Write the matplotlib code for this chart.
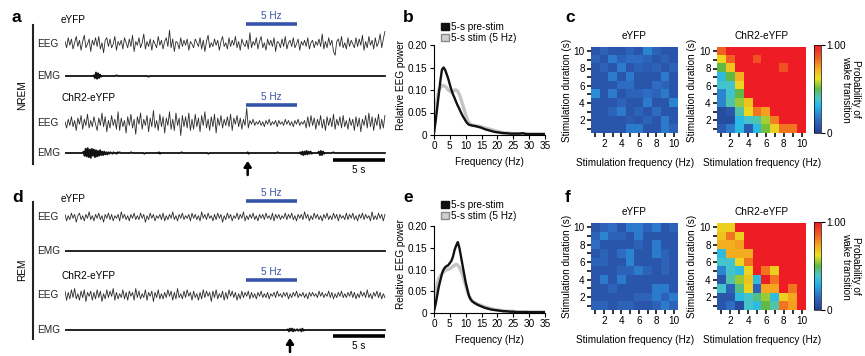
import numpy as np
import matplotlib
matplotlib.use("Agg")
import matplotlib.pyplot as plt
from matplotlib.colors import LinearSegmentedColormap
from matplotlib.patches import Patch
from matplotlib.lines import Line2D

plt.rcParams['font.family'] = ['Liberation Sans', 'DejaVu Sans']
plt.rcParams['font.size'] = 7.2

# ---------------- data ----------------
# EEG traces (arbitrary units), 31 s windows
eeg_nrem_eyfp = [2,-3,5,-1,4,-4,1,6,-2,3,-5,2,7,-3,0,4,-6,3,-1,5,
                 -2,6,-4,1,-7,3,5,-2,4,-3,0,6,-5,2,-1,3,-4,5,1,-3,
                 4,-2,7,-6,2,-1,5,-3,1,8,-4,2,-2,4,-5,3,0,-3,6,-1,
                 3,-4,2,5,-2,11,-3,4,-6,2,1,-4,5,-2,3,-1,4,-5,2,0,
                 -3,4,1,-2,5,-4,3,-6,2,7,-3,1,-2,4,-1,3,-5,2,6,-2,
                 1,-4,5,-2,3,-1,6,-3,2,-5,4,0,-2,3,-4,9,-3,2,-1,5,
                 -4,2,6,-3,1,-5,4,-1,3,-2,5,-6,2,1,-3,4,-2,6,-4,1,
                 3,-2,5,-3,0,4,-5,2,-1,3,-2,5,-4,1,3,-3,2,-1,4,-2,
                 8,-4,2,-3,5,-1,3,-6,-9,2,4,-2,6,-3,1,-4,5,-2,3,0,
                 -3,5,-2,4,-1,7,-5,2,-3,6,-1,3,-4,5,-2,1,8,-3,4,10]
eeg_nrem_chr2 = [1,-4,3,-2,5,-3,2,-6,4,-1,6,-5,3,-2,7,-4,2,-3,5,-1,
                 -6,4,-2,8,-3,5,-7,2,-4,6,-2,3,-5,9,-6,4,-3,2,-8,5,
                 -2,7,-4,3,-9,5,-1,8,-5,3,-2,6,-7,4,-3,10,-4,2,-6,7,
                 -3,5,-8,4,-2,9,-5,3,-6,8,-2,4,-10,6,-3,5,-4,8,-6,3,
                 -5,7,-3,4,-7,6,-2,9,-4,3,-6,5,-3,7,-8,4,-2,6,-4,3,
                 -2,5,-3,7,-6,4,-1,6,-3,4,-5,3,-2,12,-4,2,-1,3,-2,1,
                 -1,2,-2,1,-3,2,-1,3,-2,1,-1,2,-3,2,-1,1,-2,3,-1,2,
                 -2,1,-3,2,-1,3,-2,1,-1,2,-4,5,-3,6,-2,4,-5,3,-2,6,
                 -4,3,-6,5,-2,4,-3,7,-5,3,-2,5,-4,6,-3,2,-5,4,-2,3,
                 -6,5,-3,4,-7,3,-2,6,-4,8,-3,5,-6,4,-2,7,-5,3,-4,6]
eeg_rem_eyfp = [2,-3,1,-2,3,-1,2,-4,1,3,-2,1,-3,2,-1,4,-2,1,-3,2,
                -1,3,-2,1,-4,2,-1,3,-2,2,-3,1,-1,2,-3,4,-1,2,-2,1,
                -3,2,-1,3,-2,1,-2,3,-1,2,-4,1,-2,3,-1,2,-3,1,-1,2,
                -2,3,-3,1,-2,2,-1,4,-2,1,-3,2,-1,3,-2,1,-1,2,-3,3,
                -1,2,-2,1,-3,4,-1,2,-2,3,-1,1,-3,2,-2,3,-1,2,-4,1,
                -2,3,-1,2,-3,1,-1,3,-2,2,-1,4,-3,1,-2,2,-1,3,-2,1,
                -3,2,-1,2,-2,3,-1,1,-2,3,-3,2,-1,2,-2,1,-1,3,-2,2,
                -1,3,-2,1,-3,2,-1,2,-2,4,-1,2,-3,1,-2,3,-1,2,-2,1,
                -3,2,-1,3,-2,1,-2,3,-1,2,-3,2,-1,1,-2,3,-2,2,-1,3,
                -2,1,-3,2,-1,3,-2,2,-1,1,-3,4,-2,1,-2,3,-1,2,-3,2]
eeg_rem_chr2 = [3,-4,2,-3,4,-2,5,-3,1,-4,3,-2,4,-5,2,-1,3,-4,2,-3,
                4,-2,3,-5,1,-3,4,-2,3,-1,5,-4,2,-3,1,-2,4,-3,2,-4,
                3,-1,2,-4,5,-2,3,-3,1,-2,4,-4,2,-1,3,-5,2,-2,4,-3,
                1,-3,2,-2,4,-1,3,-4,2,-3,5,-2,1,-3,3,-2,4,-1,2,-4,
                3,-2,1,-4,2,-3,4,-2,3,-1,2,-5,3,-2,4,-3,1,-2,3,-4,
                2,-3,4,-1,3,-2,2,-4,1,-3,3,-2,2,-1,3,-3,2,-2,1,-3,
                2,-1,3,-2,1,-2,2,-3,1,-1,2,-2,3,-1,1,-2,2,-1,2,-3,
                1,-2,2,-1,3,-2,1,-1,2,-2,1,-3,2,-1,2,-1,1,-2,3,-1,
                2,-2,1,-1,3,-2,2,-3,1,-2,2,-1,3,-2,1,-2,2,-1,3,-2,
                2,-3,1,-2,3,-1,2,-2,4,-2,1,-3,2,-1,3,-2,2,-3,1,-2]
# EMG traces sampled every 0.1 s
emg_nrem_eyfp = ([0]*28 + [1,-3,5,-4,4,-3,2,-1] + [0]*14 + [1] + [0]*30 + [-1] + [0]*229)
emg_nrem_chr2 = ([0]*18 + [2,-4,6,-5,7,-6,5,-7,6,-4,5,-6,4,-5,3,-4,4,-3,2,-3]
                 + [2,-2,1,-2,1,-1,1,0,-1,1,0,0,-1,1,0,1] + [0]*10 + [1] + [0]*12 + [-1]
                 + [0]*13 + [1,-1] + [0]*20 + [1] + [0]*25 + [-1] + [0]*37 + [1,-1]
                 + [0]*27 + [1] + [0]*21 + [1,-2,2,-3,2,-2,3,-2,2,-1,2,-1] + [0]*6
                 + [2,-3,3,-3,2,-1] + [0]*8 + [1] + [0]*50)
emg_rem_eyfp = [0]*311
emg_rem_chr2 = ([0]*216 + [1,-2,2,-1,2,-2,1,-1,0,1,-1,0,1,-2,2,-1] + [0]*79)
stim_on, stim_off = 17.5, 22.5
arrow_nrem, arrow_rem = 17.7, 21.8

# EEG power spectra
freq = [0,0.5,1,1.5,2,2.5,3,3.5,4,4.5,5,5.5,6,6.5,7,7.5,8,8.5,9,9.5,10,10.5,11,11.5,12,
        13,14,15,16,17,18,19,20,21,22,23,24,25,26,27,28,29,30,31,32,33,34,35]
nrem_pre = [0.005,0.03,0.06,0.09,0.12,0.145,0.15,0.145,0.135,0.125,0.112,0.1,0.09,0.082,0.073,
            0.065,0.058,0.05,0.043,0.037,0.031,0.026,0.023,0.022,0.021,
            0.02,0.018,0.016,0.013,0.011,0.009,0.007,0.006,0.005,0.004,0.004,0.003,0.003,
            0.003,0.003,0.004,0.002,0.002,0.002,0.002,0.002,0.002,0.002]
nrem_stim = [0.01,0.05,0.08,0.1,0.105,0.11,0.11,0.108,0.105,0.1,0.098,0.095,0.097,0.1,0.1,
             0.097,0.09,0.08,0.068,0.057,0.045,0.035,0.027,0.024,0.022,
             0.02,0.02,0.018,0.016,0.014,0.012,0.01,0.008,0.006,0.005,0.004,0.004,0.003,
             0.003,0.003,0.003,0.003,0.002,0.002,0.002,0.002,0.002,0.002]
rem_pre = [0.005,0.02,0.04,0.06,0.075,0.09,0.1,0.105,0.108,0.11,0.115,0.12,0.13,0.145,0.155,
           0.163,0.15,0.13,0.11,0.09,0.07,0.055,0.04,0.032,0.027,
           0.022,0.018,0.015,0.012,0.01,0.008,0.007,0.006,0.005,0.004,0.004,0.003,0.003,
           0.002,0.002,0.002,0.002,0.002,0.002,0.002,0.002,0.002,0.002]
rem_stim = [0.01,0.04,0.065,0.08,0.085,0.09,0.095,0.097,0.1,0.1,0.102,0.105,0.107,0.11,0.112,
            0.11,0.105,0.097,0.088,0.075,0.063,0.05,0.04,0.033,0.028,
            0.023,0.02,0.017,0.014,0.012,0.01,0.008,0.007,0.006,0.005,0.004,0.004,0.004,
            0.003,0.003,0.003,0.003,0.002,0.002,0.002,0.002,0.002,0.002]
freq_ticks = [0,5,10,15,20,25,30,35]
power_ticks = [0,0.05,0.10,0.15,0.20]
power_ticklabels = ['0','0.05','0.10','0.15','0.20']

# Probability of wake transition; rows = duration 10 s (top) .. 1 s (bottom), cols = 1..10 Hz
nrem_eyfp_prob = [
    [0.08,0.12,0.08,0.08,0.12,0.08,0.20,0.12,0.08,0.08],
    [0.12,0.08,0.18,0.12,0.15,0.15,0.12,0.08,0.12,0.08],
    [0.08,0.12,0.08,0.18,0.08,0.12,0.10,0.12,0.08,0.12],
    [0.08,0.08,0.18,0.08,0.18,0.08,0.08,0.08,0.18,0.08],
    [0.08,0.08,0.08,0.15,0.15,0.08,0.08,0.15,0.12,0.08],
    [0.22,0.08,0.18,0.08,0.12,0.12,0.15,0.12,0.18,0.08],
    [0.08,0.08,0.08,0.12,0.08,0.08,0.18,0.08,0.08,0.20],
    [0.08,0.08,0.12,0.18,0.08,0.12,0.08,0.15,0.08,0.08],
    [0.08,0.08,0.08,0.08,0.10,0.08,0.12,0.08,0.18,0.08],
    [0.08,0.08,0.08,0.08,0.18,0.18,0.08,0.08,0.18,0.12]]
nrem_chr2_prob = [
    [0.85,1,1,1,1,1,1,1,1,1],
    [0.65,0.85,1,1,0.88,1,1,1,1,1],
    [0.50,0.68,1,1,1,1,1,0.88,1,1],
    [0.33,0.50,0.72,1,1,1,1,1,1,1],
    [0.38,0.38,0.65,1,1,1,1,1,1,1],
    [0.20,0.38,0.50,1,1,1,1,1,1,1],
    [0.20,0.42,0.55,0.68,1,1,1,1,1,1],
    [0.05,0.08,0.42,0.65,0.82,0.75,1,1,1,1],
    [0.05,0.05,0.32,0.38,0.42,0.56,0.80,1,1,1],
    [0.10,0.18,0.32,0.10,0.32,0.52,0.66,0.82,0.82,1]]
rem_eyfp_prob = [
    [0.08,0.12,0.15,0.08,0.18,0.18,0.12,0.18,0.08,0.12],
    [0.12,0.20,0.12,0.12,0.08,0.18,0.08,0.08,0.08,0.08],
    [0.15,0.08,0.08,0.08,0.08,0.12,0.08,0.18,0.08,0.08],
    [0.08,0.12,0.08,0.15,0.20,0.08,0.08,0.18,0.12,0.08],
    [0.12,0.12,0.08,0.08,0.20,0.08,0.08,0.08,0.12,0.08],
    [0.08,0.08,0.08,0.12,0.12,0.18,0.12,0.08,0.12,0.08],
    [0.08,0.18,0.08,0.18,0.08,0.08,0.08,0.08,0.08,0.08],
    [0.08,0.08,0.12,0.08,0.08,0.08,0.08,0.18,0.18,0.08],
    [0.08,0.08,0.08,0.08,0.08,0.12,0.12,0.18,0.12,0.18],
    [0.12,0.12,0.08,0.12,0.12,0.08,0.08,0.12,0.18,0.12]]
rem_chr2_prob = [
    [0.66,0.66,1,1,1,1,1,1,1,1],
    [0.68,0.82,0.66,1,1,1,1,1,1,1],
    [0.72,0.72,0.75,1,1,1,1,1,1,1],
    [0.33,0.73,0.73,0.73,1,1,1,1,1,1],
    [0.38,0.38,0.65,0.82,1,1,1,1,1,1],
    [0.20,0.38,0.33,0.65,1,0.82,0.66,1,1,1],
    [0.08,0.42,0.55,0.68,0.33,1,0.82,1,1,1],
    [0.38,0.12,0.45,0.66,0.12,0.74,0.74,1,0.82,1],
    [0.08,0.08,0.33,0.38,0.45,0.55,0.33,0.66,0.74,1],
    [0.08,0.15,0.05,0.38,0.33,0.50,0.42,0.82,0.75,1]]
grid_ticks = [1,2,3,4,5,6,7,8,9,10]

# ---------------- layout helpers ----------------
W, H = 865, 356
fig = plt.figure(figsize=(W/100, H/100), dpi=100)

def box(x0, y0, x1, y1):
    return fig.add_axes([x0/W, 1 - y1/H, (x1 - x0)/W, (y1 - y0)/H])

def ftxt(x, y, s, **kw):
    kw.setdefault('ha', 'left'); kw.setdefault('va', 'center')
    fig.text(x/W, 1 - y/H, s, **kw)

def vline(x, y0, y1, lw=1.5):
    fig.add_artist(Line2D([x/W, x/W], [1 - y0/H, 1 - y1/H], color='#222222', lw=lw))

BLUE = '#3553A8'
trace_col = '#2a2a2a'

# ---------------- panels a, d: traces ----------------
def trace_panel(y0, y1, rows, stim_ys, arrow_t, arrow_y, scale_y, eeg_scale):
    ax = box(65, y0, 387, y1)
    ax.set_xlim(0, 31.2)
    ax.set_ylim(y1, y0)
    ax.axis('off')
    for kind, yc, vals in rows:
        if kind == 'EEG':
            t = np.linspace(0, 31, len(vals))
            ax.plot(t, yc - eeg_scale*np.array(vals), color=trace_col, lw=0.6)
        else:
            t = np.arange(len(vals))*0.1
            ax.plot(t, yc - 0.7*np.array(vals), color='#111111', lw=1.3)
        ftxt(37, yc, kind, color='#222222')
    for sy in stim_ys:
        ax.plot([stim_on, stim_off], [sy, sy], color=BLUE, lw=2.6, solid_capstyle='butt')
        ax.text((stim_on + stim_off)/2, sy - 3, '5 Hz', color=BLUE, ha='center', va='bottom')
    ax.annotate('', xy=(arrow_t, arrow_y), xytext=(arrow_t, arrow_y + 14),
                arrowprops=dict(arrowstyle='-|>,head_width=0.3,head_length=0.45',
                                color='black', lw=1.8, shrinkA=0, shrinkB=0),
                annotation_clip=False)
    ax.plot([26, 31], [scale_y, scale_y], color='black', lw=2.6, solid_capstyle='butt')
    ax.text(28.5, scale_y + 5, '5 s', ha='center', va='top')
    return ax

trace_panel(8, 178,
            [('EEG', 44, eeg_nrem_eyfp), ('EMG', 76, emg_nrem_eyfp),
             ('EEG', 123, eeg_nrem_chr2), ('EMG', 153, emg_nrem_chr2)],
            [24, 105], arrow_nrem, 161, 160, 1.25)
trace_panel(185, 356,
            [('EEG', 217, eeg_rem_eyfp), ('EMG', 251, emg_rem_eyfp),
             ('EEG', 295, eeg_rem_chr2), ('EMG', 330, emg_rem_chr2)],
            [201, 280], arrow_rem, 338, 336, 1.3)

for y, s in [(20, 'eYFP'), (98, 'ChR2-eYFP'), (199, 'eYFP'), (276, 'ChR2-eYFP')]:
    ftxt(61, y, s)
vline(33, 25, 164)
vline(33, 202, 339)
ftxt(22, 95, 'NREM', rotation=90, ha='center')
ftxt(22, 270, 'REM', rotation=90, ha='center')

# ---------------- panels b, e: spectra ----------------
def spectrum(y0, y1, pre, stim, leg_y):
    ax = box(434, y0, 545, y1)
    ax.plot(freq, pre, color='#111111', lw=1.7, zorder=3)
    ax.plot(freq, stim, color='#c4c4c4', lw=2.4, zorder=2)
    ax.set_xlim(0, 35)
    ax.set_ylim(0, 0.2)
    ax.set_xticks(freq_ticks)
    ax.set_yticks(power_ticks)
    ax.set_yticklabels(power_ticklabels)
    for sp in ['top', 'right']:
        ax.spines[sp].set_visible(False)
    for sp in ['left', 'bottom']:
        ax.spines[sp].set_linewidth(0.8)
    ax.tick_params(length=3, width=0.8, pad=1.5, labelsize=7.2)
    handles = [Patch(facecolor='#111111', edgecolor='#111111'),
               Patch(facecolor='#cfcfcf', edgecolor='#8a8a8a')]
    ax.legend(handles, ['5-s pre-stim', '5-s stim (5 Hz)'], loc='upper left',
              bbox_to_anchor=(441/W, 1 - leg_y/H), bbox_transform=fig.transFigure,
              frameon=False, handlelength=0.75, handleheight=0.75, handletextpad=0.25,
              labelspacing=0.1, borderpad=0, borderaxespad=0, fontsize=7.2)
    ftxt(489, y1 + 27, 'Frequency (Hz)', ha='center')
    ftxt(401, (y0 + y1)/2 - 5, 'Relative EEG power', rotation=90, ha='center')
    return ax

spectrum(45, 135, nrem_pre, nrem_stim, 22)
spectrum(226, 313, rem_pre, rem_stim, 200)

# ---------------- panels c, f: heatmaps ----------------
cmap = LinearSegmentedColormap.from_list('wake', [
    (0.0, '#243f90'), (0.15, '#2f6cc4'), (0.30, '#22b6ea'), (0.40, '#4cc7c4'),
    (0.50, '#5fb946'), (0.62, '#e9e41f'), (0.75, '#f6a11f'), (0.86, '#f15a22'),
    (1.0, '#ee1c24')])

def heat(x0, x1, y0, y1, data, title, ylab_x):
    ax = box(x0, y0, x1, y1)
    im = ax.imshow(np.array(data), cmap=cmap, vmin=0, vmax=1, origin='upper',
                   extent=(0.5, 10.5, 0.5, 10.5), aspect='auto', interpolation='nearest')
    ax.set_xticks(grid_ticks)
    ax.set_yticks(grid_ticks)
    ax.set_xticklabels([str(v) if v % 2 == 0 else '' for v in grid_ticks])
    ax.set_yticklabels([str(v) if v % 2 == 0 else '' for v in grid_ticks])
    for sp in ax.spines.values():
        sp.set_visible(False)
    ax.tick_params(length=3, width=1.3, pad=1.5, color='#222222', labelsize=7.2)
    ftxt((x0 + x1)/2, y0 - 11, title, ha='center')
    ftxt((x0 + x1)/2 + 1, y1 + 30, 'Stimulation frequency (Hz)', ha='center')
    ftxt(ylab_x, (y0 + y1)/2, 'Stimulation duration (s)', rotation=90, ha='center')
    return im

def cbar(im, y0, y1):
    cax = box(814, y0, 821, y1)
    cb = fig.colorbar(im, cax=cax, ticks=[0, 1])
    cb.ax.set_yticklabels(['0', '1.00'])
    cb.outline.set_linewidth(0.5)
    cb.ax.tick_params(length=3, width=0.8, pad=1, labelsize=7.2)
    ftxt(851, (y0 + y1)/2, 'Probability of\nwake transition', rotation=270,
         ha='center', multialignment='center', linespacing=1.1)

heat(591, 678, 47, 133, nrem_eyfp_prob, 'eYFP', 567)
im = heat(717, 806, 47, 133, nrem_chr2_prob, 'ChR2-eYFP', 692)
cbar(im, 45, 133)
heat(591, 678, 223, 310, rem_eyfp_prob, 'eYFP', 567)
im = heat(717, 806, 223, 310, rem_chr2_prob, 'ChR2-eYFP', 692)
cbar(im, 222, 310)

# ---------------- panel letters ----------------
for x, y, s in [(12, 17, 'a'), (403, 17, 'b'), (565, 17, 'c'),
                (12, 197, 'd'), (403, 197, 'e'), (565, 197, 'f')]:
    ftxt(x, y, s, fontsize=12.5, fontweight='bold')

fig.savefig('out.png', dpi=100)
